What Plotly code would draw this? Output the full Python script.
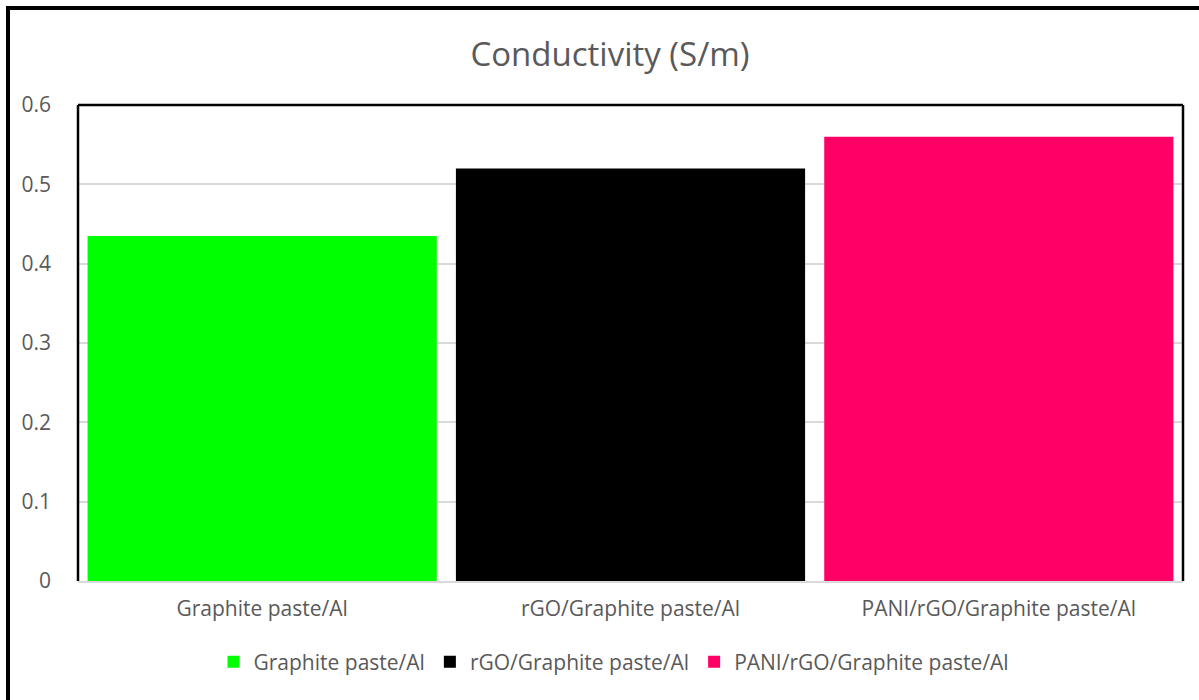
import plotly.graph_objects as go

# Conductivity of each electrode
categories = ["Graphite paste/Al", "rGO/Graphite paste/Al", "PANI/rGO/Graphite paste/Al"]
conductivity = [0.435, 0.52, 0.56]
colors = ["#00FF00", "#000000", "#FF0066"]
y_ticks = [0, 0.1, 0.2, 0.3, 0.4, 0.5, 0.6]
y_tick_labels = ["0", "0.1", "0.2", "0.3", "0.4", "0.5", "0.6"]

FONT = "Open Sans"
GREY = "#595959"

fig = go.Figure()
for name, val, col in zip(categories, conductivity, colors):
    fig.add_trace(go.Bar(
        x=[name], y=[val], name=name,
        marker=dict(color=col, line=dict(width=0)),
        width=0.948,
    ))

# figure geometry (pixels)
W, H = 1199, 700
L, R, T, B = 78, 16, 105, 119
pw, ph = W - L - R, H - T - B

def px(x):
    return (x - L) / pw

def py(y):
    return (H - B - y) / ph

shapes = [
    # plot-area frame: left, top, right
    dict(type="line", xref="paper", yref="paper", x0=0, x1=0, y0=0, y1=1,
         line=dict(color="black", width=2.5)),
    dict(type="line", xref="paper", yref="paper", x0=0, x1=1, y0=1, y1=1,
         line=dict(color="black", width=2.5)),
    dict(type="line", xref="paper", yref="paper", x0=1, x1=1, y0=0, y1=1,
         line=dict(color="black", width=2.5)),
    # outer chart frame
    dict(type="line", xref="paper", yref="paper", x0=px(8), x1=px(8), y0=py(6), y1=py(705),
         line=dict(color="black", width=4)),
    dict(type="line", xref="paper", yref="paper", x0=px(6), x1=px(1205), y0=py(8), y1=py(8),
         line=dict(color="black", width=4)),
]

fig.update_layout(
    width=W, height=H,
    margin=dict(l=L, r=R, t=T, b=B),
    paper_bgcolor="white", plot_bgcolor="white",
    barmode="overlay",
    title=dict(text="Conductivity (S/m)", x=610 / W, xanchor="center",
               y=1 - 54 / H, yanchor="middle",
               font=dict(family=FONT, size=33, color=GREY)),
    font=dict(family=FONT, size=21, color=GREY),
    xaxis=dict(showgrid=False, showline=True, linecolor="#D9D9D9", linewidth=1.5,
               ticks="", tickfont=dict(size=21, color=GREY), ticklabelstandoff=8,
               range=[-0.5, 2.5]),
    yaxis=dict(range=[0, 0.6], tickvals=y_ticks, ticktext=y_tick_labels,
               showgrid=True, gridcolor="#D9D9D9", gridwidth=1.5,
               zeroline=False, showline=False, ticks="",
               tickfont=dict(size=21, color=GREY), ticklabelstandoff=26),
    legend=dict(orientation="h", x=px(614), xanchor="center", y=py(662), yanchor="middle",
                font=dict(size=21, color=GREY), itemwidth=30,
                tracegroupgap=0, traceorder="normal"),
    shapes=shapes,
)

fig.write_html("out.html")
